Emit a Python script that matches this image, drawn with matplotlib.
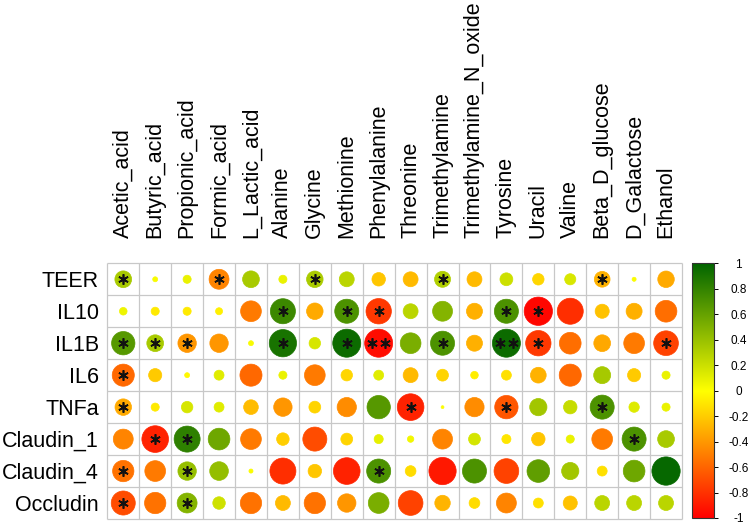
import matplotlib
matplotlib.use("Agg")
import matplotlib.pyplot as plt
import numpy as np
from matplotlib.patches import Circle
from matplotlib.colors import LinearSegmentedColormap, Normalize
from matplotlib.cm import ScalarMappable

plt.rcParams['font.family'] = ['Liberation Sans', 'DejaVu Sans']

columns = ["Acetic_acid", "Butyric_acid", "Propionic_acid", "Formic_acid", "L_Lactic_acid",
           "Alanine", "Glycine", "Methionine", "Phenylalanine", "Threonine", "Trimethylamine",
           "Trimethylamine_N_oxide", "Tyrosine", "Uracil", "Valine", "Beta_D_glucose",
           "D_Galactose", "Ethanol"]
rows = ["TEER", "IL10", "IL1B", "IL6", "TNFa", "Claudin_1", "Claudin_4", "Occludin"]

TEER = [0.34, 0.03, 0.08, -0.48, 0.34, 0.08, 0.33, 0.27, -0.22, -0.27, 0.31, -0.27, 0.20, -0.16, 0.15, -0.30, 0.02, -0.33]
IL10 = [0.07, -0.08, -0.08, -0.06, -0.52, 0.76, -0.33, 0.70, -0.78, 0.27, 0.48, -0.31, 0.70, -0.97, -0.82, -0.24, -0.31, -0.57]
IL1B = [0.66, 0.34, -0.41, -0.41, 0.03, 0.90, 0.16, 0.95, -0.95, 0.52, 0.70, -0.31, 0.95, -0.78, -0.57, -0.34, -0.52, -0.74]
IL6 = [-0.59, -0.21, -0.03, 0.12, -0.59, 0.08, -0.52, -0.16, 0.12, -0.27, -0.17, -0.07, -0.12, -0.30, -0.59, 0.35, -0.21, 0.08]
TNFa = [-0.33, -0.08, 0.16, 0.12, -0.26, -0.41, -0.17, -0.45, 0.66, -0.86, 0.01, -0.45, -0.66, 0.36, 0.22, 0.70, 0.13, 0.08]
Claudin_1 = [-0.48, -0.86, 0.82, 0.57, -0.52, -0.19, -0.70, -0.17, 0.10, 0.05, -0.48, 0.17, -0.10, -0.22, 0.08, -0.52, 0.70, 0.34]
Claudin_4 = [-0.55, -0.52, 0.41, 0.42, 0.02, -0.82, -0.22, -0.86, 0.70, -0.14, -0.90, 0.70, -0.74, 0.62, 0.36, -0.12, 0.57, 0.97]
Occludin = [-0.70, -0.55, 0.48, 0.19, -0.55, -0.27, -0.55, -0.41, 0.52, -0.74, -0.29, -0.14, -0.48, -0.12, -0.24, 0.27, 0.27, 0.27]

# significance: 1 = *, 2 = **
sig_TEER = [1, 0, 0, 1, 0, 0, 1, 0, 0, 0, 1, 0, 0, 0, 0, 1, 0, 0]
sig_IL10 = [0, 0, 0, 0, 0, 1, 0, 1, 1, 0, 0, 0, 1, 1, 0, 0, 0, 0]
sig_IL1B = [1, 1, 1, 0, 0, 1, 0, 1, 2, 0, 1, 0, 2, 1, 0, 0, 0, 1]
sig_IL6 = [1, 0, 0, 0, 0, 0, 0, 0, 0, 0, 0, 0, 0, 0, 0, 0, 0, 0]
sig_TNFa = [1, 0, 0, 0, 0, 0, 0, 0, 0, 1, 0, 0, 1, 0, 0, 1, 0, 0]
sig_Claudin_1 = [0, 1, 1, 0, 0, 0, 0, 0, 0, 0, 0, 0, 0, 0, 0, 0, 1, 0]
sig_Claudin_4 = [1, 0, 1, 0, 0, 0, 0, 0, 1, 0, 0, 0, 0, 0, 0, 0, 0, 0]
sig_Occludin = [1, 0, 1, 0, 0, 0, 0, 0, 0, 0, 0, 0, 0, 0, 0, 0, 0, 0]

colorbar_ticks = [1, 0.8, 0.6, 0.4, 0.2, 0, -0.2, -0.4, -0.6, -0.8, -1]
colorbar_labels = ["1", "0.8", "0.6", "0.4", "0.2", "0", "-0.2", "-0.4", "-0.6", "-0.8", "-1"]

values = np.array([TEER, IL10, IL1B, IL6, TNFa, Claudin_1, Claudin_4, Occludin])
sig = np.array([sig_TEER, sig_IL10, sig_IL1B, sig_IL6, sig_TNFa, sig_Claudin_1, sig_Claudin_4, sig_Occludin])

cmap = LinearSegmentedColormap.from_list("ryg", ["#FF0000", "#FFFF00", "#006400"])
norm = Normalize(-1, 1)

W, H = 750, 524
fig = plt.figure(figsize=(W / 100, H / 100), dpi=100)

gx0, gx1, gy0, gy1 = 107.3, 682.0, 263.3, 519.0
ax = fig.add_axes([gx0 / W, 1 - gy1 / H, (gx1 - gx0) / W, (gy1 - gy0) / H])
nr, nc = values.shape
ax.set_xlim(0, nc)
ax.set_ylim(nr, 0)
for s in ax.spines.values():
    s.set_visible(False)

grid_col = "#c8c8c8"
ax.hlines(np.arange(nr + 1), 0, nc, color=grid_col, lw=0.9, zorder=1, clip_on=False)
ax.vlines(np.arange(nc + 1), 0, nr, color=grid_col, lw=0.9, zorder=1, clip_on=False)

for i in range(nr):
    for j in range(nc):
        v = values[i, j]
        r = 0.9 * np.sqrt(abs(v)) / 2
        c = cmap(norm(v))
        ax.add_patch(Circle((j + 0.5, i + 0.5), r, facecolor=c, edgecolor=c, lw=0.5, zorder=2))
        if sig[i, j] == 1:
            ax.plot(j + 0.5, i + 0.5, marker=(6, 2, 0), ms=7.5, mew=1.2, color="#111111", zorder=3)
        elif sig[i, j] == 2:
            ax.plot([j + 0.5 - 0.21, j + 0.5 + 0.21], [i + 0.5, i + 0.5], ls="none",
                    marker=(6, 2, 0), ms=7.5, mew=1.2, color="#111111", zorder=3)

ax.xaxis.tick_top()
ax.set_xticks(np.arange(nc) + 0.5)
ax.set_xticklabels(columns, rotation=90, fontsize=15.5, ha="center", va="bottom")
ax.set_yticks(np.arange(nr) + 0.5)
ax.set_yticklabels(rows, fontsize=15.5)
ax.tick_params(axis="x", length=0, pad=18)
ax.tick_params(axis="y", length=0, pad=6)

# colorbar
cx0, cx1, cy0, cy1 = 692.3, 714.3, 263.3, 518.0
cax = fig.add_axes([cx0 / W, 1 - cy1 / H, (cx1 - cx0) / W, (cy1 - cy0) / H])
cb = fig.colorbar(ScalarMappable(norm=norm, cmap=cmap), cax=cax)
cb.outline.set_linewidth(0.8)
cb.outline.set_edgecolor("#333333")
cb.set_ticks(colorbar_ticks)
cb.set_ticklabels(colorbar_labels)
cax.tick_params(axis="y", direction="out", length=3, width=0.7, labelsize=8.5, pad=14.5)
for lab in cax.get_yticklabels():
    lab.set_ha("center")

fig.savefig("out.png", dpi=100)
